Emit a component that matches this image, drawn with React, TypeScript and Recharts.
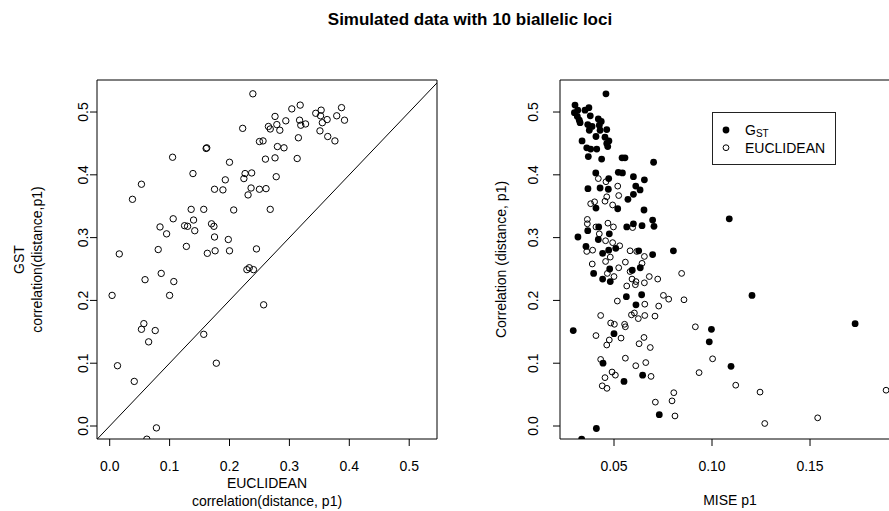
import React from 'react';
import { ScatterChart, Scatter, XAxis, YAxis, ReferenceLine, ReferenceArea, Legend } from 'recharts';

const FONT = '"Liberation Sans", Arial, Helvetica, sans-serif';

// left panel: correlation(distance, p1) of EUCLIDEAN (x) against GST (y)
const euclidCorr = [
  0.239, 0.304, 0.318, 0.387, 0.344, 0.353, 0.352, 0.363, 0.379, 0.392,
  0.355, 0.276, 0.279, 0.294, 0.265, 0.268, 0.284, 0.317, 0.319, 0.327,
  0.351, 0.315, 0.364, 0.376, 0.222, 0.250, 0.256, 0.280, 0.291, 0.161,
  0.162, 0.105, 0.200, 0.260, 0.276, 0.313, 0.139, 0.226, 0.237, 0.224,
  0.193, 0.278, 0.053, 0.175, 0.189, 0.236, 0.250, 0.261, 0.231, 0.038,
  0.136, 0.157, 0.207, 0.268, 0.106, 0.140, 0.084, 0.125, 0.130, 0.170,
  0.174, 0.095, 0.142, 0.175, 0.198, 0.128, 0.081, 0.016, 0.163, 0.176,
  0.200, 0.245, 0.059, 0.086, 0.107, 0.004, 0.100, 0.229, 0.233, 0.240,
  0.257, 0.057, 0.053, 0.076, 0.065, 0.157, 0.013, 0.041, 0.178, 0.078, 0.062,
];
const gstCorr = [
  0.529, 0.505, 0.511, 0.507, 0.498, 0.503, 0.494, 0.488, 0.494, 0.487,
  0.483, 0.493, 0.480, 0.486, 0.477, 0.473, 0.471, 0.487, 0.479, 0.481,
  0.470, 0.459, 0.461, 0.454, 0.474, 0.453, 0.454, 0.445, 0.443, 0.442,
  0.443, 0.428, 0.420, 0.425, 0.427, 0.426, 0.402, 0.402, 0.403, 0.394,
  0.392, 0.397, 0.385, 0.377, 0.376, 0.379, 0.377, 0.378, 0.368, 0.361,
  0.345, 0.345, 0.344, 0.345, 0.330, 0.328, 0.317, 0.319, 0.318, 0.322,
  0.318, 0.306, 0.311, 0.301, 0.297, 0.286, 0.281, 0.274, 0.275, 0.279,
  0.279, 0.282, 0.233, 0.243, 0.230, 0.208, 0.208, 0.249, 0.252, 0.249,
  0.193, 0.163, 0.154, 0.152, 0.134, 0.146, 0.096, 0.071, 0.100, -0.003, -0.021,
];

// right panel: MISE p1 against correlation, GST (filled)
const gstMise = [
  0.0459, 0.0301, 0.0298, 0.0313, 0.0323, 0.0352, 0.0372, 0.0379, 0.0366, 0.0374,
  0.0420, 0.0425, 0.0429, 0.0463, 0.0408, 0.0454, 0.0474, 0.0468, 0.0337, 0.0361,
  0.0381, 0.0412, 0.0369, 0.0437, 0.0541, 0.0556, 0.0702, 0.0407, 0.0522, 0.0543,
  0.0599, 0.0655, 0.0473, 0.0367, 0.0429, 0.0471, 0.0611, 0.0633, 0.0599, 0.0571,
  0.0408, 0.0519, 0.0653, 0.1088, 0.0697, 0.0366, 0.0422, 0.0565, 0.0599, 0.0643,
  0.0704, 0.0316, 0.0420, 0.0476, 0.0357, 0.0442, 0.0473, 0.0509, 0.0626, 0.0697,
  0.0803, 0.0396, 0.0442, 0.0481, 0.0478, 0.0593, 0.0634, 0.0563, 0.0612, 0.0641,
  0.1204, 0.0292, 0.0500, 0.0444, 0.0551, 0.0646, 0.0997, 0.0986, 0.1097, 0.1730,
  0.0731, 0.0410, 0.0335, 0.0315, 0.0327, 0.0388, 0.0435, 0.0463,
];
const gstMiseCorr = [
  0.529, 0.511, 0.499, 0.493, 0.487, 0.503, 0.507, 0.494, 0.480, 0.471,
  0.489, 0.479, 0.471, 0.472, 0.461, 0.460, 0.454, 0.445, 0.454, 0.443,
  0.441, 0.441, 0.429, 0.425, 0.427, 0.427, 0.420, 0.403, 0.404, 0.403,
  0.397, 0.392, 0.394, 0.378, 0.379, 0.377, 0.382, 0.376, 0.369, 0.361,
  0.347, 0.346, 0.344, 0.330, 0.328, 0.311, 0.317, 0.317, 0.322, 0.319,
  0.318, 0.301, 0.297, 0.306, 0.286, 0.275, 0.280, 0.283, 0.279, 0.273,
  0.279, 0.243, 0.234, 0.230, 0.250, 0.248, 0.252, 0.206, 0.193, 0.209,
  0.208, 0.152, 0.147, 0.100, 0.071, 0.081, 0.154, 0.134, 0.095, 0.163,
  0.018, -0.004, -0.021, 0.503, 0.483, 0.477, 0.485, 0.450,
];

// right panel: EUCLIDEAN (open)
const eucMise = [
  0.0420, 0.0459, 0.0519, 0.0524, 0.0463, 0.0454, 0.0493, 0.0381, 0.0401, 0.0364,
  0.0364, 0.0469, 0.0497, 0.0595, 0.0425, 0.0457, 0.0493, 0.0529, 0.0361, 0.0391,
  0.0481, 0.0457, 0.0582, 0.0616, 0.0655, 0.0643, 0.0389, 0.0558, 0.0524, 0.0582,
  0.0466, 0.0500, 0.0592, 0.0680, 0.0723, 0.0845, 0.0565, 0.0612, 0.0609, 0.0655,
  0.0517, 0.0752, 0.0779, 0.0857, 0.0728, 0.0589, 0.0604, 0.0624, 0.0657, 0.0657,
  0.0709, 0.0432, 0.0483, 0.0502, 0.0554, 0.0558, 0.0915, 0.0408, 0.0476, 0.0463,
  0.0536, 0.0653, 0.0628, 0.0685, 0.0432, 0.0558, 0.1003, 0.0611, 0.0662, 0.0490,
  0.0507, 0.0454, 0.0440, 0.0464, 0.0689, 0.0934, 0.1121, 0.1245, 0.0711, 0.0796,
  0.0805, 0.0811, 0.1269, 0.1539, 0.1888, 0.0408,
];
const eucMiseCorr = [
  0.394, 0.389, 0.382, 0.367, 0.365, 0.358, 0.352, 0.354, 0.357, 0.329,
  0.322, 0.323, 0.317, 0.316, 0.306, 0.295, 0.292, 0.287, 0.278, 0.280,
  0.269, 0.262, 0.279, 0.278, 0.270, 0.259, 0.258, 0.261, 0.252, 0.246,
  0.243, 0.238, 0.234, 0.238, 0.234, 0.243, 0.223, 0.230, 0.225, 0.228,
  0.199, 0.208, 0.202, 0.201, 0.191, 0.177, 0.180, 0.171, 0.176, 0.194,
  0.175, 0.176, 0.164, 0.162, 0.162, 0.158, 0.158, 0.144, 0.137, 0.129,
  0.140, 0.141, 0.131, 0.125, 0.106, 0.108, 0.107, 0.096, 0.101, 0.086,
  0.081, 0.077, 0.064, 0.060, 0.079, 0.085, 0.065, 0.054, 0.038, 0.040,
  0.053, 0.016, 0.004, 0.013, 0.057, 0.317,
];

const corrTicks = [0, 0.1, 0.2, 0.3, 0.4, 0.5];
const miseTicks = [0.05, 0.1, 0.15];

const leftData = euclidCorr.map((x, i) => ({ x, y: gstCorr[i] }));
const gstData = gstMise.map((x, i) => ({ x, y: gstMiseCorr[i] }));
const eucData = eucMise.map((x, i) => ({ x, y: eucMiseCorr[i] }));

const leftX: [number, number] = [-0.0212, 0.5464];
const leftY: [number, number] = [-0.0207, 0.551];
const rightX: [number, number] = [0.02245, 0.1959];

const txt = { fontFamily: FONT, fontSize: 14, fill: '#000' };

const makeYTick = (cx: number) => (props: any) => {
  const { y, payload } = props;
  return (
    <text {...txt} x={cx} y={y} dy="0.35em" textAnchor="middle" transform={`rotate(-90 ${cx} ${y})`}>
      {payload.value.toFixed(1)}
    </text>
  );
};

const makeXTick = (digits: number) => (props: any) => {
  const { x, payload } = props;
  return (
    <text {...txt} x={x} y={466} dy="0.35em" textAnchor="middle">
      {payload.value.toFixed(digits)}
    </text>
  );
};

const openDot = (r: number) => (props: any) => (
  <circle cx={props.cx} cy={props.cy} r={r} fill="none" stroke="#000" strokeWidth={1} />
);
const filledDot = (props: any) => <circle cx={props.cx} cy={props.cy} r={3.4} fill="#000" />;

const VText = ({ x, y, children }: any) => (
  <text {...txt} x={x} y={y} dy="0.35em" textAnchor="middle" transform={`rotate(-90 ${x} ${y})`}>
    {children}
  </text>
);

const LegendBox = () => (
  <svg width={124} height={53} style={{ display: 'block' }}>
    <rect x={0.5} y={0.5} width={123} height={52} fill="#fff" stroke="#222" />
    <circle cx={14} cy={18} r={3.4} fill="#000" />
    <text {...txt} x={33} y={23}>
      G<tspan fontSize={10} dy={2}>ST</tspan>
    </text>
    <circle cx={14} cy={35.7} r={2.9} fill="none" stroke="#000" />
    <text {...txt} x={33} y={40.7}>EUCLIDEAN</text>
  </svg>
);

export default function App() {
  return (
    <div style={{ position: 'absolute', left: 0, top: 0, width: 889, height: 511, overflow: 'hidden', background: '#fff' }}>
      <div style={{ position: 'absolute', left: 0, top: 20, width: 940, textAlign: 'center', transform: 'translateY(-50%)', fontFamily: FONT, fontWeight: 'bold', fontSize: 17 }}>
        Simulated data with 10 biallelic loci
      </div>

      <div style={{ position: 'absolute', left: 0, top: 0 }}>
        <ScatterChart width={460} height={511} margin={{ top: 80, right: 23, bottom: 40, left: 57 }}>
          <XAxis type="number" dataKey="x" domain={leftX} allowDataOverflow ticks={corrTicks} tick={makeXTick(1)} tickSize={7} axisLine={false} tickLine={{ stroke: '#000' }} height={32} />
          <YAxis type="number" dataKey="y" domain={leftY} allowDataOverflow ticks={corrTicks} tick={makeYTick(83.5)} tickSize={7} axisLine={false} tickLine={{ stroke: '#000' }} width={40} />
          <ReferenceArea x1={leftX[0]} x2={leftX[1]} y1={leftY[0]} y2={leftY[1]} fill="none" fillOpacity={0} stroke="#000" strokeWidth={1} ifOverflow="visible" />
          <ReferenceLine segment={[{ x: -0.1, y: -0.1 }, { x: 1, y: 1 }]} stroke="#000" strokeWidth={1} ifOverflow="hidden" />
          <Scatter data={leftData} shape={openDot(3.2)} isAnimationActive={false} />
        </ScatterChart>
        <svg width={460} height={511} style={{ position: 'absolute', left: 0, top: 0, pointerEvents: 'none' }}>
          <VText x={19} y={259.5}>GST</VText>
          <VText x={37} y={259.5}>correlation(distance,p1)</VText>
          <text {...txt} x={267} y={483.3} dy="0.35em" textAnchor="middle">EUCLIDEAN</text>
          <text {...txt} x={267} y={501.5} dy="0.35em" textAnchor="middle">correlation(distance, p1)</text>
        </svg>
      </div>

      <div style={{ position: 'absolute', left: 460, top: 0 }}>
        <ScatterChart width={460} height={511} margin={{ top: 80, right: 20, bottom: 40, left: 60 }}>
          <XAxis type="number" dataKey="x" domain={rightX} allowDataOverflow ticks={miseTicks} tick={makeXTick(2)} tickSize={7} axisLine={false} tickLine={{ stroke: '#000' }} height={32} />
          <YAxis type="number" dataKey="y" domain={leftY} allowDataOverflow ticks={corrTicks} tick={makeYTick(73)} tickSize={7} axisLine={false} tickLine={{ stroke: '#000' }} width={40} />
          <ReferenceArea x1={rightX[0]} x2={rightX[1]} y1={leftY[0]} y2={leftY[1]} fill="none" fillOpacity={0} stroke="#000" strokeWidth={1} ifOverflow="visible" />
          <Scatter name="GST" data={gstData} shape={filledDot} isAnimationActive={false} />
          <Scatter name="EUCLIDEAN" data={eucData} shape={openDot(2.9)} isAnimationActive={false} />
          <Legend layout="horizontal" verticalAlign="middle" align="center" wrapperStyle={{ left: 252, top: 112, width: 124, height: 53 }} content={() => <LegendBox />} />
        </ScatterChart>
        <svg width={460} height={511} style={{ position: 'absolute', left: 0, top: 0, pointerEvents: 'none' }}>
          <VText x={41} y={259.5}>Correlation (distance, p1)</VText>
          <text {...txt} x={270} y={500} dy="0.35em" textAnchor="middle">MISE p1</text>
        </svg>
      </div>
    </div>
  );
}
